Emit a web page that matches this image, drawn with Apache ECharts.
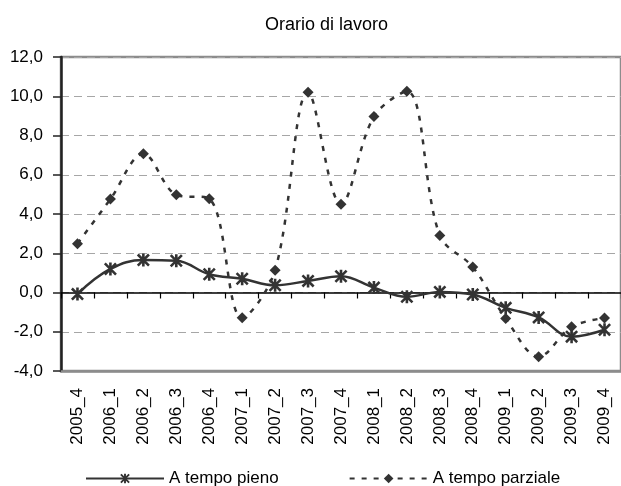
<!DOCTYPE html>
<html>
<head>
<meta charset="utf-8">
<script src="https://cdn.jsdelivr.net/npm/echarts@6/dist/echarts.min.js"></script>
<style>
html,body{margin:0;padding:0;background:#fff;}
#c{width:621px;height:486px;}
</style>
</head>
<body>
<div id="c"></div>
<script>
const categories = ['2005_4','2006_1','2006_2','2006_3','2006_4','2007_1','2007_2','2007_3','2007_4','2008_1','2008_2','2008_3','2008_4','2009_1','2009_2','2009_3','2009_4'];
const tempoPieno = [-0.08,1.2,1.65,1.62,0.93,0.7,0.37,0.59,0.83,0.25,-0.22,0.03,-0.1,-0.78,-1.27,-2.25,-1.9];
const tempoParziale = [2.49,4.76,7.07,4.98,4.78,-1.29,1.14,10.2,4.5,8.97,10.25,2.9,1.3,-1.32,-3.27,-1.75,-1.3];
const yMin = -4, yMax = 12, yStep = 2;

const FONT = '"Liberation Sans", Arial, sans-serif';
const STAR = 'path://M4 0 L6 0 L6 10 L4 10 Z M0 1.4 L1.4 0 L10 8.6 L8.6 10 Z M8.6 0 L10 1.4 L1.4 10 L0 8.6 Z';

const chart = echarts.init(document.getElementById('c'), null, {renderer:'canvas'});
chart.setOption({
  animation: false,
  backgroundColor: '#fff',
  textStyle: {fontFamily: FONT, color: '#000'},
  title: {
    text: 'Orario di lavoro',
    left: 260, top: 11,
    textStyle: {fontFamily: FONT, fontSize: 18, fontWeight: 'normal', color: '#000'}
  },
  grid: {
    left: 61, top: 57, width: 569, height: 314,
    show: true, borderColor: '#8c8c8c', borderWidth: 2.5, backgroundColor: 'transparent'
  },
  legend: {
    left: 80, top: 465,
    itemWidth: 78, itemHeight: 12, itemGap: 70,
    textStyle: {fontFamily: FONT, fontSize: 17, color: '#000'},
    data: ['A tempo pieno', 'A tempo parziale']
  },
  xAxis: [{
    type: 'category', data: categories, position: 'bottom', boundaryGap: true,
    axisLine: {onZero: false, lineStyle: {color: '#8c8c8c', width: 2.5}},
    axisTick: {show: false},
    axisLabel: {rotate: 90, margin: 17, fontSize: 17, color: '#000', fontFamily: FONT, interval: 0},
    splitLine: {show: false}
  }, {
    type: 'category', data: categories, position: 'top', boundaryGap: true,
    axisLine: {onZero: true, lineStyle: {color: '#000', width: 1.5}},
    axisTick: {show: true, inside: true, length: 6, lineStyle: {color: '#000', width: 1.2}, interval: 0},
    axisLabel: {show: false},
    splitLine: {show: false}
  }],
  yAxis: {
    type: 'value', min: yMin, max: yMax, interval: yStep,
    axisLine: {show: true, onZero: false, lineStyle: {color: '#222', width: 2.5}},
    axisTick: {show: true, length: 8, lineStyle: {color: '#222', width: 1.5}},
    axisLabel: {
      margin: 18, fontSize: 17, color: '#000', fontFamily: FONT,
      formatter: v => v.toFixed(1).replace('.', ',')
    },
    splitLine: {show: true, lineStyle: {color: '#a6a6a6', width: 1.2, type: [8, 5]}}
  },
  series: [{
    name: 'A tempo pieno', type: 'line', data: tempoPieno, xAxisIndex: 0,
    smooth: 0.4, symbol: STAR, symbolSize: 13, showAllSymbol: true,
    lineStyle: {color: '#333', width: 2.5},
    itemStyle: {color: '#333', borderWidth: 0},
    z: 3
  }, {
    name: 'A tempo parziale', type: 'line', data: tempoParziale, xAxisIndex: 0,
    smooth: 0.35, symbol: 'diamond', symbolSize: 11, showAllSymbol: true,
    lineStyle: {color: '#333', width: 2.5, type: [5, 7]},
    itemStyle: {color: '#333', borderWidth: 0},
    z: 3
  }]
});
</script>
</body>
</html>
